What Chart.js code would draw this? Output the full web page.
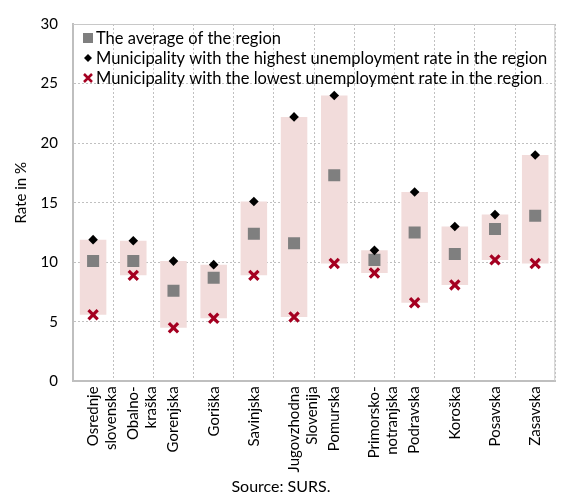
<!DOCTYPE html>
<html>
<head>
<meta charset="utf-8">
<script src="https://cdn.jsdelivr.net/npm/chart.js@4/dist/chart.umd.min.js"></script>
<style>
  html, body { margin: 0; padding: 0; background: #fff; }
  canvas { display: block; }
</style>
</head>
<body>
<canvas id="c" width="565" height="496"></canvas>
<script>
// Registered unemployment rate by statistical region (%)
const regions = [
  ["Osrednje", "slovenska"], ["Obalno-", "kraška"], "Gorenjska", "Goriška", "Savinjska",
  ["Jugovzhodna", "Slovenija"], "Pomurska", ["Primorsko-", "notranjska"], "Podravska",
  "Koroška", "Posavska", "Zasavska"
];
const regionAverage = [10.1, 10.1, 7.6, 8.7, 12.4, 11.6, 17.3, 10.2, 12.5, 10.7, 12.8, 13.9];
const highestMunicipality = [11.9, 11.8, 10.1, 9.8, 15.1, 22.2, 24.0, 11.0, 15.9, 13.0, 14.0, 19.0];
const lowestMunicipality = [5.6, 8.9, 4.5, 5.3, 8.9, 5.4, 9.9, 9.1, 6.6, 8.1, 10.2, 9.9];
const seriesNames = [
  "The average of the region",
  "Municipality with the highest unemployment rate in the region",
  "Municipality with the lowest unemployment rate in the region"
];
const yTicks = [0, 5, 10, 15, 20, 25, 30];
const yAxisTitle = "Rate in %";

const FONT = "Lato, 'Open Sans', sans-serif";
const GREY = "#7f7f7f";
const RED = "#a50021";

// Range of each region, from lowest to highest municipality
const ranges = regions.map((_, i) => [lowestMunicipality[i], highestMunicipality[i]]);

// Plot frame (top and right edges) drawn behind the marks
const framePlugin = {
  id: "frame",
  beforeDatasetsDraw(chart) {
    const { ctx, chartArea: a } = chart;
    ctx.save();
    ctx.strokeStyle = "#c8c8c8";
    ctx.lineWidth = 1;
    ctx.beginPath();
    ctx.moveTo(a.left, a.top + 0.5);
    ctx.lineTo(a.right - 0.5, a.top + 0.5);
    ctx.lineTo(a.right - 0.5, a.bottom);
    ctx.stroke();
    ctx.restore();
  }
};

// Vertical axis title, set a little above the middle of the axis
const axisTitle = {
  id: "axisTitle",
  afterDraw(chart) {
    const { ctx, chartArea: a } = chart;
    ctx.save();
    ctx.font = "15px " + FONT;
    ctx.fillStyle = "#000";
    ctx.textAlign = "center";
    ctx.textBaseline = "middle";
    ctx.translate(21, (a.top + a.bottom) / 2 - 10);
    ctx.rotate(-Math.PI / 2);
    ctx.fillText(yAxisTitle, 0, 0);
    ctx.restore();
  }
};

// Legend placed in the upper-left corner of the plot
const innerLegend = {
  id: "innerLegend",
  afterDraw(chart) {
    const { ctx, chartArea: a } = chart;
    const mx = a.left + 15, tx = a.left + 23;
    const rows = [a.top + 14, a.top + 34, a.top + 54];
    ctx.save();
    ctx.font = "16.5px " + FONT;
    ctx.fillStyle = "#000";
    ctx.textBaseline = "middle";
    ctx.textAlign = "left";
    seriesNames.forEach((t, i) => ctx.fillText(t, tx, rows[i] + 1));
    // square
    ctx.fillStyle = GREY;
    ctx.fillRect(mx - 5, rows[0] - 5, 10, 10);
    // diamond
    ctx.fillStyle = "#000";
    ctx.beginPath();
    ctx.moveTo(mx - 4, rows[1]); ctx.lineTo(mx, rows[1] - 4);
    ctx.lineTo(mx + 4, rows[1]); ctx.lineTo(mx, rows[1] + 4);
    ctx.closePath(); ctx.fill();
    // cross
    ctx.strokeStyle = RED;
    ctx.lineWidth = 2.5;
    ctx.beginPath();
    ctx.moveTo(mx - 4, rows[2] - 4); ctx.lineTo(mx + 4, rows[2] + 4);
    ctx.moveTo(mx + 4, rows[2] - 4); ctx.lineTo(mx - 4, rows[2] + 4);
    ctx.stroke();
    ctx.restore();
  }
};

new Chart(document.getElementById("c"), {
  type: "bar",
  data: {
    labels: regions,
    datasets: [
      {
        type: "bar",
        label: "Range",
        data: ranges,
        backgroundColor: "#f2dcdb",
        borderWidth: 0,
        barPercentage: 0.66,
        categoryPercentage: 1.0,
        order: 10
      },
      {
        type: "line",
        label: seriesNames[0],
        data: regionAverage,
        showLine: false,
        pointStyle: "rect",
        pointRadius: 8.5,
        pointBackgroundColor: GREY,
        pointBorderWidth: 0,
        order: 3
      },
      {
        type: "line",
        label: seriesNames[1],
        data: highestMunicipality,
        showLine: false,
        pointStyle: "rectRot",
        pointRadius: 4.8,
        pointBackgroundColor: "#000",
        pointBorderWidth: 0,
        order: 2
      },
      {
        type: "line",
        label: seriesNames[2],
        data: lowestMunicipality,
        showLine: false,
        pointStyle: "crossRot",
        pointRadius: 6.5,
        pointBorderColor: RED,
        pointBorderWidth: 3.2,
        order: 1
      }
    ]
  },
  options: {
    responsive: false,
    animation: false,
    devicePixelRatio: 1,
    layout: { padding: { top: 19, right: 3, left: 0, bottom: 0 } },
    plugins: {
      legend: { display: false },
      tooltip: { enabled: false },
      title: {
        display: true,
        position: "bottom",
        text: "Source: SURS.",
        color: "#000",
        font: { family: FONT, size: 16, weight: "normal", lineHeight: 1.1 },
        padding: { top: 0, bottom: 0 }
      }
    },
    scales: {
      x: {
        offset: true,
        grid: {
          offset: true,
          drawTicks: false,
          color: "#c0c0c0",
          lineWidth: 1
        },
        border: { display: true, color: "#bfbfbf", width: 2, dash: [2, 2] },
        ticks: {
          color: "#000",
          font: { family: FONT, size: 15, lineHeight: 1.2 },
          maxRotation: 90,
          minRotation: 90,
          padding: 5,
          autoSkip: false
        },
        afterFit(scale) { scale.height = 97; }
      },
      y: {
        min: 0,
        max: 30,
        afterBuildTicks(scale) { scale.ticks = yTicks.map(v => ({ value: v })); },
        grid: {
          drawTicks: false,
          color: "#c0c0c0",
          lineWidth: 1
        },
        border: { display: true, color: "#bfbfbf", width: 2, dash: [2, 2] },
        ticks: {
          color: "#000",
          font: { family: FONT, size: 15 },
          padding: 15
        },
        title: { display: false },
        afterFit(scale) { scale.width = 73; }
      }
    }
  },
  plugins: [framePlugin, axisTitle, innerLegend]
});
</script>
</body>
</html>
